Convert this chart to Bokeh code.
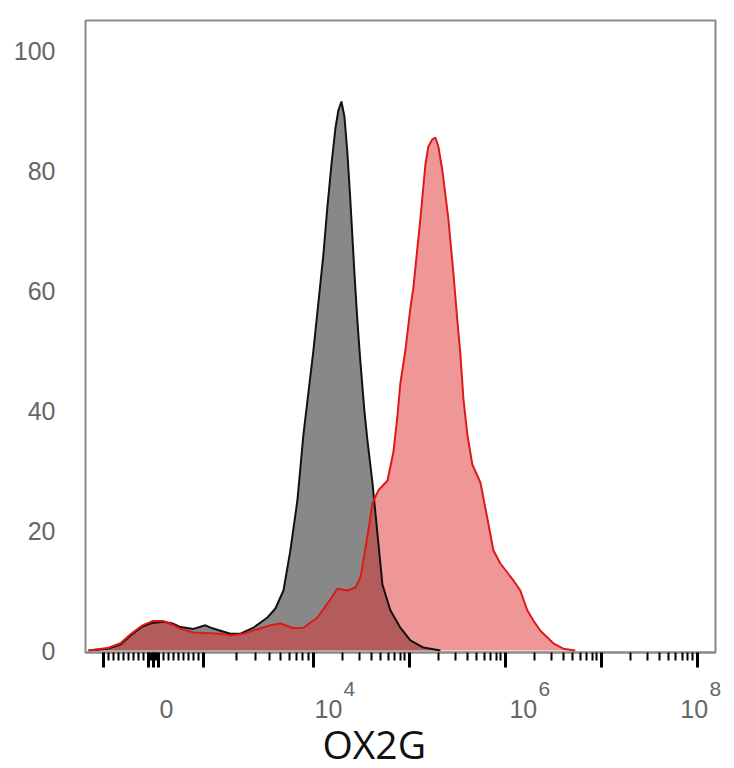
import numpy as np
from bokeh.plotting import figure
from bokeh.models import Range1d, FixedTicker, LinearAxis, Title
from bokeh.embed import file_html
from bokeh.resources import INLINE

# ---------------- data (x in biexponential display units, y in % of max) ----------------
control_x = [1.656, 1.854, 1.990, 2.094, 2.219, 2.323, 2.438, 2.531, 2.615, 2.750,
             2.875, 2.948, 3.031, 3.135, 3.240, 3.375, 3.521, 3.604, 3.688, 3.760,
             3.833, 3.896, 3.948, 4.000, 4.052, 4.104, 4.146, 4.188, 4.229, 4.260,
             4.292, 4.323, 4.354, 4.385, 4.427, 4.458, 4.490, 4.531, 4.563, 4.615,
             4.667, 4.719, 4.802, 4.906, 5.010, 5.146, 5.323]
control_y = [0.0, 0.3, 1.0, 2.5, 4.0, 4.6, 4.8, 4.5, 3.9, 3.6,
             4.2, 3.7, 3.3, 2.8, 2.8, 3.8, 5.5, 7.0, 10.0, 16.7,
             25.0, 36.0, 43.0, 50.0, 58.0, 66.0, 74.0, 81.0, 87.0, 90.0,
             91.5, 89.0, 83.0, 75.0, 63.0, 55.0, 48.0, 40.0, 35.0, 28.0,
             19.5, 11.0, 6.7, 3.8, 1.7, 0.5, 0.0]

ox2g_x = [1.656, 1.854, 1.990, 2.094, 2.219, 2.323, 2.438, 2.531, 2.615, 2.750,
          2.875, 3.031, 3.135, 3.271, 3.448, 3.552, 3.656, 3.792, 3.896, 4.042,
          4.146, 4.250, 4.354, 4.438, 4.490, 4.563, 4.615, 4.677, 4.771, 4.833,
          4.875, 4.906, 4.958, 5.010, 5.042, 5.083, 5.115, 5.167, 5.198, 5.240,
          5.271, 5.302, 5.344, 5.375, 5.406, 5.458, 5.500, 5.531, 5.563, 5.604,
          5.656, 5.740, 5.813, 5.875, 5.948, 6.021, 6.083, 6.156, 6.229, 6.292,
          6.365, 6.500, 6.604, 6.729]
ox2g_y = [0.0, 0.4, 1.2, 2.7, 4.2, 4.9, 4.9, 4.3, 3.6, 3.0,
          2.9, 2.8, 2.5, 2.8, 3.7, 4.2, 4.5, 3.7, 3.8, 5.5,
          7.8, 10.3, 10.0, 10.5, 12.2, 19.0, 24.5, 26.7, 28.3, 33.0,
          39.0, 44.5, 50.0, 57.0, 60.5, 67.0, 72.0, 81.0, 84.0, 85.2,
          85.5, 84.0, 80.0, 76.0, 72.0, 63.0, 55.0, 49.5, 42.0, 36.0,
          31.0, 28.0, 22.0, 16.7, 14.5, 13.0, 11.7, 10.0, 6.7, 5.0,
          3.3, 1.2, 0.3, 0.0]

y_ticks = [0, 20, 40, 60, 80, 100]
x_major_values = [-1000, -100, 0, 100, 1000, 1e4, 1e5, 1e6, 1e7, 1e8]
x_label_values = [0, 1e4, 1e6, 1e8]
x_label_bases = ["0", "10", "10", "10"]
x_label_exps = ["", "4", "6", "8"]
x_title = "OX2G"


# ---------------- biexponential-like display scale ----------------
def to_display(v):
    v = np.asarray(v, dtype=float)
    out = np.empty_like(v)
    lin = np.abs(v) <= 1000
    out[lin] = 2.333 + v[lin] * 0.000521
    mid = (v > 1000) & (v <= 1e4)
    out[mid] = 2.854 + (np.log10(v[mid]) - 3.0) * 1.146
    hi = v > 1e4
    out[hi] = np.log10(v[hi])
    neg = v < -1000
    out[neg] = 2.333 - (2.854 + (np.log10(-v[neg]) - 3.0) * 1.146 - 2.333)
    return out


minor_vals = ([-k * 100 for k in range(2, 10)] + [k * 10 for k in range(-9, 10) if k != 0]
              + [k * 100 for k in range(2, 10)]
              + [k * 10 ** n for n in range(3, 8) for k in range(2, 10)])

major_pos = [float(t) for t in to_display(x_major_values)]
minor_pos = [float(t) for t in to_display(minor_vals)]

X0, X1 = 1.625, 8.19
p = figure(width=734, height=768, output_backend="svg", toolbar_location=None,
           x_range=Range1d(X0, X1), y_range=Range1d(-0.333, 105.0),
           min_border_left=85, min_border_right=19, min_border_top=20,
           min_border_bottom=116)
p.grid.visible = False
p.outline_line_color = "#8a8a8a"
p.outline_line_width = 2
p.background_fill_color = "white"
p.border_fill_color = "white"

# fills
p.varea(x=control_x, y1=0, y2=control_y, fill_color="#888888", fill_alpha=1.0)
p.varea(x=ox2g_x, y1=0, y2=ox2g_y, fill_color="#e03030", fill_alpha=0.5)
# outlines
p.line(control_x, control_y, line_color="#111111", line_width=2)
p.line(ox2g_x, ox2g_y, line_color="#dd1a1a", line_width=2)

# main x axis: tick marks only
xa = p.xaxis[0]
xa.ticker = FixedTicker(ticks=major_pos, minor_ticks=minor_pos)
xa.major_label_overrides = {t: "" for t in major_pos}
xa.major_label_text_font_size = "1px"
xa.major_label_standoff = 0
xa.axis_line_color = "#8a8a8a"
xa.axis_line_width = 2
xa.major_tick_line_color = "black"
xa.major_tick_line_width = 3
xa.major_tick_in = 0
xa.major_tick_out = 15
xa.minor_tick_line_color = "black"
xa.minor_tick_line_width = 2
xa.minor_tick_in = 0
xa.minor_tick_out = 8

# tick-label axes: exponents (closer to frame), then bases (centred labels)
px_per_unit = 630.0 / (X1 - X0)
label_dx = [13, 15, 18, -3]     # pixel shift of each label centre from its tick
exp_dx = 21                     # pixel shift of exponent centre from base centre
base_pos = [float(to_display([v])[0]) + dx / px_per_unit
            for v, dx in zip(x_label_values, label_dx)]
exp_pos = [b + exp_dx / px_per_unit for b, e in zip(base_pos, x_label_exps) if e]
exp_txt = [e for e in x_label_exps if e]


def label_axis(ticks, texts, size, standoff):
    ax = LinearAxis(ticker=FixedTicker(ticks=ticks, minor_ticks=[]),
                    major_label_overrides={t: s for t, s in zip(ticks, texts)})
    ax.axis_line_color = None
    ax.major_tick_line_color = None
    ax.minor_tick_line_color = None
    ax.major_tick_in = 0
    ax.major_tick_out = 0
    ax.minor_tick_in = 0
    ax.minor_tick_out = 0
    ax.major_label_text_font = "Liberation Sans"
    ax.major_label_text_font_size = size
    ax.major_label_text_color = "#666666"
    ax.major_label_standoff = standoff
    return ax


p.add_layout(label_axis(exp_pos, exp_txt, "21px", 14), "below")
p.add_layout(label_axis(base_pos, x_label_bases, "25px", 1), "below")

# axis title
p.add_layout(Title(text=x_title, align="left", offset=237, text_font="Open Sans",
                   text_font_size="39px", text_font_style="normal",
                   text_color="#111111", standoff=-12), "below")

# y axis
ya = p.yaxis[0]
ya.ticker = FixedTicker(ticks=y_ticks, minor_ticks=[])
ya.axis_line_color = None
ya.major_tick_line_color = None
ya.minor_tick_line_color = None
ya.major_tick_out = 0
ya.major_label_standoff = 30
ya.major_label_text_font = "Liberation Sans"
ya.major_label_text_font_size = "25px"
ya.major_label_text_color = "#666666"

open("out.html", "w").write(file_html(p, INLINE))
